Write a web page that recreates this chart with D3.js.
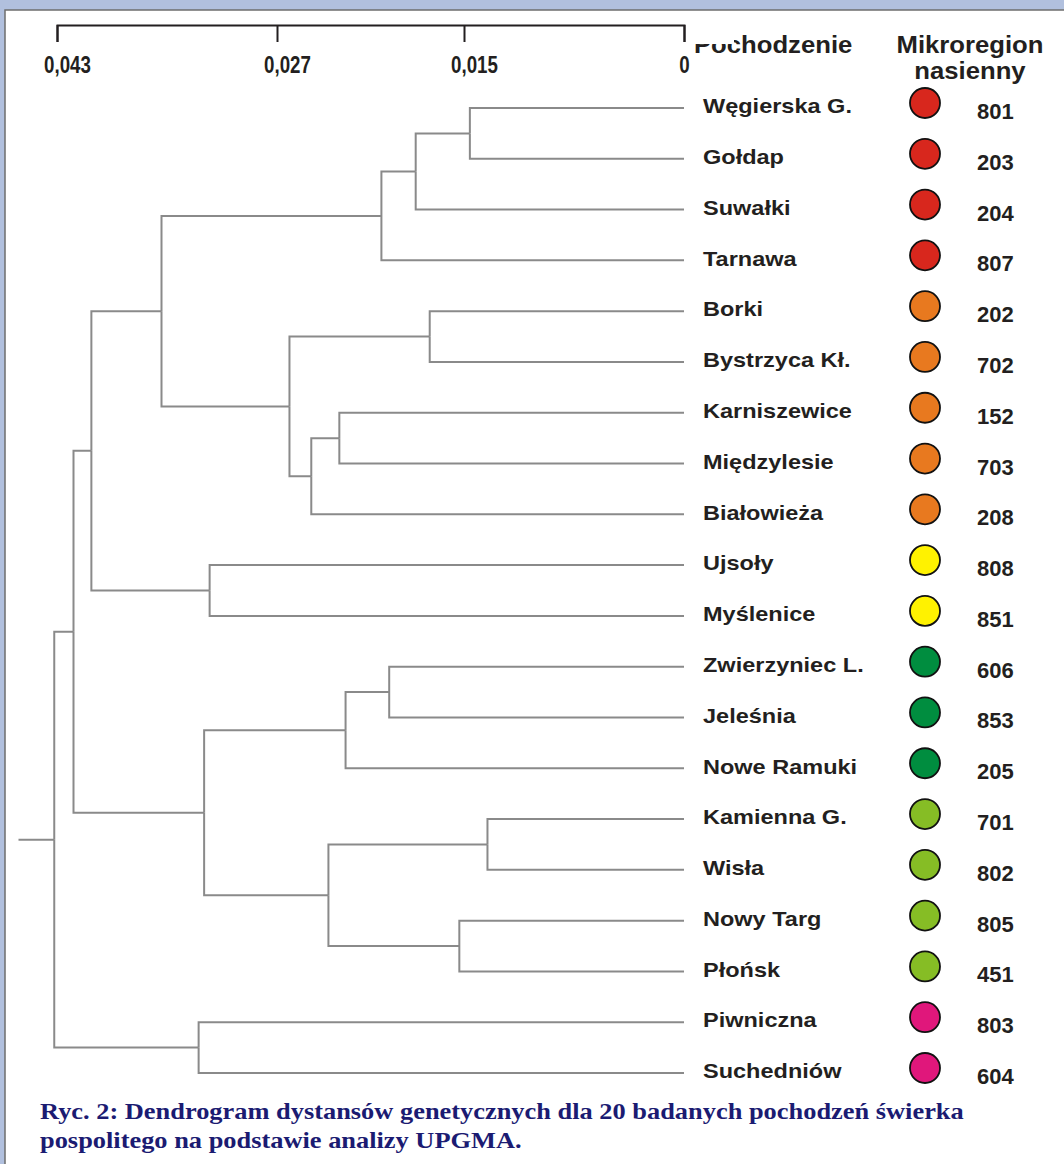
<!DOCTYPE html>
<html>
<head>
<meta charset="utf-8">
<script src="https://cdn.jsdelivr.net/npm/d3@7"></script>
<style>
  html, body { margin: 0; padding: 0; background: #b1c0de; }
  svg { display: block; }
</style>
</head>
<body>
<svg id="graph" width="1064" height="1164"></svg>
<script>
// leaves, top to bottom
var leafNames = ["Węgierska G.", "Gołdap", "Suwałki", "Tarnawa", "Borki", "Bystrzyca Kł.",
  "Karniszewice", "Międzylesie", "Białowieża", "Ujsoły", "Myślenice", "Zwierzyniec L.",
  "Jeleśnia", "Nowe Ramuki", "Kamienna G.", "Wisła", "Nowy Targ", "Płońsk", "Piwniczna", "Suchedniów"];
var seedCodes = ["801", "203", "204", "807", "202", "702", "152", "703", "208", "808",
  "851", "606", "853", "205", "701", "802", "805", "451", "803", "604"];
var regionGroup = [0, 0, 0, 0, 1, 1, 1, 1, 1, 2, 2, 3, 3, 3, 4, 4, 4, 4, 5, 5];
var groupColors = ["#d8271d", "#e8791f", "#fff200", "#008d3f", "#86bd25", "#e0177b"];

// UPGMA merges: ids 0-19 are leaves, merge k gets id 20+k
var mergeLeft   = [0, 20, 21, 4, 6, 24, 23, 22, 9, 27, 11, 30, 14, 16, 32, 31, 29, 18, 36];
var mergeRight  = [1, 2, 3, 5, 7, 8, 25, 26, 10, 28, 12, 13, 15, 17, 33, 34, 35, 19, 37];
var mergeHeight = [0.0146, 0.0181, 0.0203, 0.0172, 0.0230, 0.0248, 0.0262, 0.0354, 0.0319, 0.0405,
  0.0198, 0.0226, 0.0134, 0.0153, 0.0237, 0.0323, 0.0418, 0.0327, 0.0432];
var rootTip = 0.0458;

var tickValues = [0.043, 0.027, 0.015, 0];

var svg = d3.select("#graph"),
    width = +svg.attr("width"),
    height = +svg.attr("height");

var sans = "'Liberation Sans', Arial, sans-serif";

// white panel with grey edge
svg.append("rect")
    .attr("x", 5).attr("y", 10)
    .attr("width", width).attr("height", height)
    .attr("fill", "#fff")
    .attr("stroke", "#6e6e6e")
    .attr("stroke-width", 1.5);

// the printed scale is not linear, so the axis is piecewise
var x = d3.scaleLinear()
    .domain(tickValues)
    .range([57, 277, 464, 684]);

var y = d3.scalePoint()
    .domain(leafNames)
    .range([108, 1073]);

var axis = d3.axisBottom(x)
    .tickValues(tickValues)
    .tickSizeInner(17)
    .tickSizeOuter(17)
    .tickPadding(14)
    .tickFormat(function(d) { return d === 0 ? "0" : String(d).replace(".", ","); });

var gAxis = svg.append("g")
    .attr("transform", "translate(0,25)")
    .call(axis);
gAxis.selectAll("path, line")
    .attr("stroke", "#231f20")
    .attr("stroke-width", 2);
// labels are narrow and sit a little right of their ticks
gAxis.selectAll("text")
    .attr("fill", "#231f20")
    .attr("transform", function(d) { return "translate(" + (d === 0 ? 0 : 10) + ",0) scale(0.78,1)"; })
    .style("font-family", sans)
    .style("font-weight", "bold")
    .style("font-size", "24px");

// build the tree
var nodes = leafNames.map(function(name, i) {
    return {name: name, index: i, height: 0};
});
mergeLeft.forEach(function(l, k) {
    nodes.push({children: [nodes[l], nodes[mergeRight[k]]], height: mergeHeight[k]});
});
var root = d3.hierarchy(nodes[nodes.length - 1]);
root.eachAfter(function(d) {
    d.py = d.children ? d3.mean(d.children, function(c) { return c.py; }) : y(d.data.name);
});

var link = svg.append("g")
    .attr("fill", "none")
    .attr("stroke", "#8a8a8a")
    .attr("stroke-width", 2)
    .selectAll("path")
    .data(root.links())
    .enter().append("path")
    .attr("d", function(d) {
        return "M" + x(d.source.data.height) + "," + d.source.py +
            "V" + d.target.py + "H" + x(d.target.data.height);
    });

svg.append("line")
    .attr("x1", x(rootTip)).attr("x2", x(root.data.height))
    .attr("y1", root.py).attr("y2", root.py)
    .attr("stroke", "#8a8a8a")
    .attr("stroke-width", 2);

// leaf rows
var row = svg.append("g")
    .selectAll("g")
    .data(root.leaves())
    .enter().append("g")
    .attr("transform", function(d) { return "translate(0," + d.py + ")"; })
    .style("font-family", sans)
    .style("font-weight", "bold")
    .attr("fill", "#231f20");

row.append("text")
    .attr("transform", "translate(703,0) scale(1.12,1)")
    .attr("dy", "0.25em")
    .style("font-size", "21px")
    .text(function(d) { return d.data.name; });

row.append("circle")
    .attr("cx", 925)
    .attr("cy", -5)
    .attr("r", 15)
    .attr("fill", function(d) { return groupColors[regionGroup[d.data.index]]; })
    .attr("stroke", "#111")
    .attr("stroke-width", 1.8);

row.append("text")
    .attr("x", 977)
    .attr("dy", "0.5em")
    .style("font-size", "22px")
    .text(function(d) { return seedCodes[d.data.index]; });

// column headers
var head = svg.append("g")
    .style("font-family", sans)
    .style("font-weight", "bold")
    .style("font-size", "24px")
    .attr("fill", "#231f20");
head.append("text").attr("transform", "translate(694,53) scale(1.07,1)").text("Pochodzenie");
head.append("text").attr("transform", "translate(970,53) scale(1.07,1)")
    .attr("text-anchor", "middle").text("Mikroregion");
head.append("text").attr("transform", "translate(970,79) scale(1.07,1)")
    .attr("text-anchor", "middle").text("nasienny");
// top of the first letters is hidden in the original
head.append("rect")
    .attr("x", 688).attr("y", 30).attr("width", 46).attr("height", 14)
    .attr("fill", "#fff");

// caption
var cap = svg.append("text")
    .attr("transform", "translate(40,1119) scale(1.1,1)")
    .attr("fill", "#1b1b72")
    .style("font-family", "'Liberation Serif', 'Times New Roman', serif")
    .style("font-weight", "bold")
    .style("font-size", "24px");
cap.append("tspan").attr("x", 0).text("Ryc. 2: Dendrogram dystansów genetycznych dla 20 badanych pochodzeń świerka");
cap.append("tspan").attr("x", 0).attr("dy", 29).text("pospolitego na podstawie analizy UPGMA.");
</script>
</body>
</html>
